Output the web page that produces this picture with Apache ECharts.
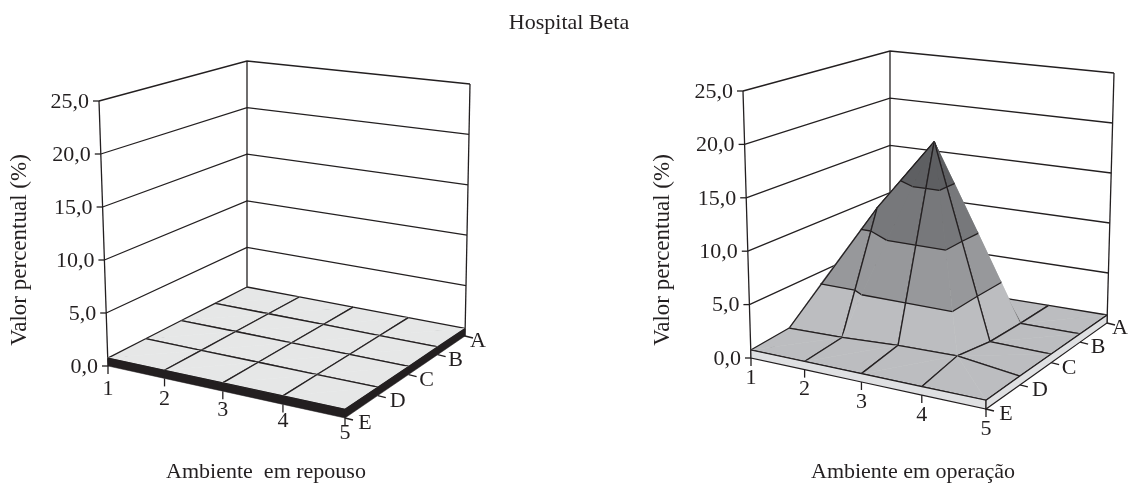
<!DOCTYPE html>
<html><head><meta charset="utf-8">
<style>html,body{margin:0;padding:0;background:#fff}#c{width:1130px;height:483px}</style>
<script src="https://cdn.jsdelivr.net/npm/echarts@6/dist/echarts.min.js"></script>
</head><body><div id="c"></div>
<script>
// ---- data ----
const columns = ['1','2','3','4','5'];
const rowsLabels = ['A','B','C','D','E'];
const valueTicks = [0,5,10,15,20,25];
const tickLabels = ['0,0','5,0','10,0','15,0','20,0','25,0'];
const repousoValues = [
  [0.75,0.75,0.75,0.75,0.75],
  [0.75,0.75,0.75,0.75,0.75],
  [0.75,0.75,0.75,0.75,0.75],
  [0.75,0.75,0.75,0.75,0.75],
  [0.75,0.75,0.75,0.75,0.75]
];
const operacaoValues = [
  [0.8,0.8,0.8,0.8,0.8],
  [0.8,1.0,10.4,0.8,0.8],
  [0.8,12.0,19.2,0.9,0.8],
  [1.0,1.1,1.4,1.5,0.8],
  [0.75,0.75,0.75,0.75,0.75]
];
const bandEdges = [0,5,10,15,20,25];
const titleText = 'Hospital Beta';
const leftTitle = 'Ambiente  em repouso';
const rightTitle = 'Ambiente em operação';
const yTitle = 'Valor percentual (%)';

// ---- layout ----
const INK = '#231f20';
const FONT = '"Liberation Serif", serif';
const panels = {
  left: { L0:[108,366],L1:[99,101], B0:[247,294],B1:[247,61], R0:[465,336],R1:[470,84], F0:[345,418],F1:[346,128],
    surface:['#e6e7e7','#e6e7e7','#e6e7e7','#e6e7e7','#e6e7e7'], slab:INK, values:repousoValues,
    labelDy:c=>23-c*2, ridgeFlip:{}, outlineDiagonal:{} },
  right:{ L0:[751,358],L1:[743,91], B0:[890,287],B1:[890,51], R0:[1107,323],R1:[1114,73], F0:[986,409],F1:[988,118],
    surface:['#bcbdc0','#97989b','#77787b','#5e5f62','#4c4d4f'], slab:'#dfe0e2', values:operacaoValues,
    labelDy:c=>20, ridgeFlip:{'2,0':true}, outlineDiagonal:{'0,2':true} }
};
const depthLabelDx = [13,18,18,20,20];

function homography(p00,p10,p11,p01){
  const dx1=p10[0]-p11[0],dx2=p01[0]-p11[0],sx=p00[0]-p10[0]+p11[0]-p01[0];
  const dy1=p10[1]-p11[1],dy2=p01[1]-p11[1],sy=p00[1]-p10[1]+p11[1]-p01[1];
  const d=dx1*dy2-dx2*dy1;
  const g=(sx*dy2-dx2*sy)/d,h=(dx1*sy-sx*dy1)/d;
  const a=p10[0]-p00[0]+g*p10[0],b=p01[0]-p00[0]+h*p01[0],c=p00[0];
  const e=p10[1]-p00[1]+g*p10[1],f=p01[1]-p00[1]+h*p01[1],k=p00[1];
  return (u,v)=>{const w=g*u+h*v+1;return [(a*u+b*v+c)/w,(e*u+f*v+k)/w];};
}
// col 0..4 left to right ; row 0..4 A(back) to E(front)
function projector(P){
  const bottom=homography(P.L0,P.B0,P.R0,P.F0);
  const top=homography(P.L1,P.B1,P.R1,P.F1);
  return (col,row,val)=>{
    const u=1-row/4, v=col/4, t=val/25;
    const a=bottom(u,v), b=top(u,v);
    return [a[0]+(b[0]-a[0])*t, a[1]+(b[1]-a[1])*t];
  };
}
function clipBand(tri,lo,hi){
  let poly=tri;
  const clip=(pts,inside,edge)=>{
    const out=[];
    for(let i=0;i<pts.length;i++){
      const A=pts[i],B=pts[(i+1)%pts.length];
      const ia=inside(A[2]),ib=inside(B[2]);
      if(ia) out.push(A);
      if(ia!==ib){const t=(edge-A[2])/(B[2]-A[2]);out.push([A[0]+(B[0]-A[0])*t,A[1]+(B[1]-A[1])*t,edge]);}
    }
    return out;
  };
  poly=clip(poly,v=>v>=lo,lo); if(poly.length) poly=clip(poly,v=>v<=hi,hi);
  return poly;
}
function contourSeg(tri,k){
  const pts=[];
  for(let i=0;i<3;i++){
    const A=tri[i],B=tri[(i+1)%3];
    if((A[2]<k)!==(B[2]<k)){const t=(k-A[2])/(B[2]-A[2]);pts.push([A[0]+(B[0]-A[0])*t,A[1]+(B[1]-A[1])*t,k]);}
  }
  return pts.length===2?pts:null;
}
function triangles(P,c,r){
  const vals=P.values;
  const a=[c,r,vals[r][c]],b=[c+1,r,vals[r][c+1]],d=[c+1,r+1,vals[r+1][c+1]],e=[c,r+1,vals[r+1][c]];
  const depth=t=>t[0][0]+t[0][1]+t[1][0]+t[1][1]+t[2][0]+t[2][1];
  const outline=!!P.outlineDiagonal[c+','+r];
  let list;
  if(P.ridgeFlip[c+','+r] || a[2]+d[2] > b[2]+e[2]+1e-6){
    list=[{p:[a,b,d],edges:[[a,b],[b,d]]},{p:[a,d,e],edges:[[d,e],[e,a]]}];
    if(outline) list[1].edges.push([a,d]);
  } else {
    list=[{p:[a,b,e],edges:[[a,b],[e,a]]},{p:[b,d,e],edges:[[b,d],[d,e]]}];
    if(outline) list[1].edges.push([b,e]);
  }
  return list.sort((x,y)=>depth(x.p)-depth(y.p));
}

function seriesFor(key){
  const P=panels[key], pr=projector(P), vals=P.values;
  const items=[];
  for(let s=0;s<=8;s++) for(let c=0;c<4;c++){const r=s-c; if(r>=0&&r<4) items.push([c,r]);}
  const line=(api,a,b,w)=>({type:'polyline',shape:{points:[api.coord(a),api.coord(b)]},style:{stroke:INK,lineWidth:w,fill:null}});
  const text=(api,p,str,align)=>{const q=api.coord(p);return {type:'text',x:q[0],y:q[1],style:{text:str,fill:INK,font:'22px '+FONT,align:align,verticalAlign:'middle'}};};
  const walls={type:'custom',coordinateSystem:'cartesian2d',silent:true,animation:false,clip:false,z:2,
    data:valueTicks.map((v,i)=>[v,i]),encode:{x:0,y:1},
    renderItem(params,api){
      const v=api.value(0),i=params.dataIndex,ch=[];
      const L=pr(0,4,v),B=pr(0,0,v),R=pr(4,0,v);
      ch.push({type:'polyline',shape:{points:[L,B,R].map(p=>api.coord(p))},style:{stroke:INK,lineWidth:1.3,fill:null}});
      ch.push(line(api,[L[0]-6,L[1]],L,1.3));
      ch.push(text(api,[L[0]-10,L[1]+1],tickLabels[i],'right'));
      if(i===0){
        [[pr(0,4,0),pr(0,4,25)],[pr(0,0,0),pr(0,0,25)],[pr(4,0,0),pr(4,0,25)]].forEach(s=>ch.push(line(api,s[0],s[1],1.3)));
      }
      return {type:'group',children:ch};
    }};
  const surface={type:'custom',coordinateSystem:'cartesian2d',silent:true,animation:false,clip:false,z:3,
    data:items,encode:{x:0,y:1},
    renderItem(params,api){
      const c=api.value(0),r=api.value(1),ch=[];
      const w=1.3;
      triangles(P,c,r).forEach(t=>{
        bandEdges.slice(0,-1).forEach((lo,b)=>{
          const poly=clipBand(t.p,lo,bandEdges[b+1]);
          if(poly.length>=3){
            ch.push({type:'polygon',shape:{points:poly.map(q=>api.coord(pr(q[0],q[1],q[2])))},style:{fill:P.surface[b],stroke:P.surface[b],lineWidth:0.6}});
          }
        });
        bandEdges.slice(1,-1).forEach(k=>{
          const s=contourSeg(t.p,k);
          if(s) ch.push(line(api,pr(s[0][0],s[0][1],k),pr(s[1][0],s[1][1],k),w));
        });
        t.edges.forEach(e=>ch.push(line(api,pr(e[0][0],e[0][1],e[0][2]),pr(e[1][0],e[1][1],e[1][2]),w)));
      });
      return {type:'group',children:ch};
    }};
  const slabW=key==='left'?0:1.2;
  const frame={type:'custom',coordinateSystem:'cartesian2d',silent:true,animation:false,clip:false,z:4,
    data:[[0,0]],encode:{x:0,y:1},
    renderItem(params,api){
      const ch=[];
      const front=[],side=[];
      columns.forEach((_,c)=>front.push(pr(c,4,vals[4][c])));
      for(let c=4;c>=0;c--) front.push(pr(c,4,0));
      rowsLabels.forEach((_,r)=>side.push(pr(4,4-r,vals[4-r][4])));
      for(let r=0;r<5;r++) side.push(pr(4,r,0));
      [front,side].forEach(pts=>ch.push({type:'polygon',shape:{points:pts.map(p=>api.coord(p))},style:{fill:P.slab,stroke:slabW?INK:P.slab,lineWidth:slabW||0.5}}));
      columns.forEach((lab,c)=>{
        const p=pr(c,4,0);
        ch.push(line(api,p,[p[0],p[1]+8],1.3));
        ch.push(text(api,[p[0],p[1]+P.labelDy(c)],lab,'center'));
      });
      rowsLabels.forEach((lab,r)=>{
        const p=pr(4,r,0);
        ch.push(line(api,p,[p[0]+8,p[1]+2],1.3));
        ch.push(text(api,[p[0]+depthLabelDx[r],p[1]+5.5],lab,'center'));
      });
      return {type:'group',children:ch};
    }};
  return [walls,surface,frame];
}

const chart=echarts.init(document.getElementById('c'),null,{renderer:'canvas'});
const titleStyle={color:INK,fontFamily:'Liberation Serif',fontSize:22,fontWeight:'normal'};
chart.setOption({
  animation:false,
  backgroundColor:'#fff',
  title:[
    {text:titleText,left:564,top:7,textAlign:'center',textStyle:titleStyle},
    {text:leftTitle,left:261,top:456,textAlign:'center',textStyle:titleStyle},
    {text:rightTitle,left:908,top:456,textAlign:'center',textStyle:titleStyle}
  ],
  grid:{left:0,right:0,top:0,bottom:0},
  xAxis:{type:'value',min:0,max:1130,show:false},
  yAxis:{type:'value',min:0,max:483,inverse:true,show:false},
  graphic:[
    {type:'text',rotation:Math.PI/2,x:20,y:250,style:{text:yTitle,fill:INK,font:'23px '+FONT,align:'center',verticalAlign:'middle'}},
    {type:'text',rotation:Math.PI/2,x:663,y:250,style:{text:yTitle,fill:INK,font:'23px '+FONT,align:'center',verticalAlign:'middle'}}
  ],
  series:[...seriesFor('left'),...seriesFor('right')]
});
</script></body></html>
